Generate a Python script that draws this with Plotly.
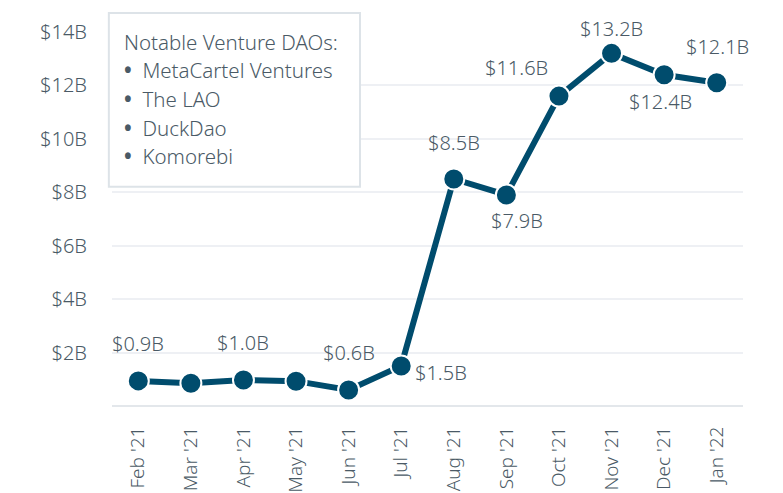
import plotly.graph_objects as go

months = ["Feb '21", "Mar '21", "Apr '21", "May '21", "Jun '21", "Jul '21",
          "Aug '21", "Sep '21", "Oct '21", "Nov '21", "Dec '21", "Jan '22"]
values = [0.94, 0.85, 0.97, 0.93, 0.6, 1.5, 8.5, 7.9, 11.6, 13.2, 12.4, 12.1]
labels = ["$0.9B", "", "$1.0B", "", "$0.6B", "$1.5B",
          "$8.5B", "$7.9B", "$11.6B", "$13.2B", "$12.4B", "$12.1B"]
# label offsets in pixels (x, y)
offsets = [(0, 37), (0, 0), (0, 38), (0, 0), (0, 37), (40, -7),
           (0, 36), (11, -26), (-42, 29), (0, 25), (-4, -27), (1, 36)]
ytick_vals = [2, 4, 6, 8, 10, 12, 14]
ytick_text = ["$2B", "$4B", "$6B", "$8B", "$10B", "$12B", "$14B"]
legend_title = "Notable Venture DAOs:"
legend_items = ["MetaCartel Ventures", "The LAO", "DuckDao", "Komorebi"]

FONT = "Noto Sans"
W = 300
TXT = "#4a5a66"
DARK = "#004c6d"

fig = go.Figure()
fig.add_trace(go.Scatter(
    x=months, y=values, mode="lines+markers",
    line=dict(color=DARK, width=6),
    marker=dict(size=21, color=DARK, line=dict(color="white", width=2)),
    cliponaxis=False, hoverinfo="skip",
))

for m, v, lab, (dx, dy) in zip(months, values, labels, offsets):
    if lab:
        fig.add_annotation(x=m, y=v, text=lab, showarrow=False,
                           xshift=dx, yshift=dy,
                           font=dict(family=FONT, size=20, color=TXT, weight=W))

# legend-like box
fig.add_shape(type="rect", xref="paper", yref="paper",
              x0=-0.005, x1=0.393, y0=0.586, y1=1.051,
              line=dict(color="#dde3e8", width=2), fillcolor="white", layer="above")
lines = [legend_title] + ["<b>•</b>\u00a0\u00a0" + it for it in legend_items]
for i, t in enumerate(lines):
    ypix = 42 + i * 28.5
    fig.add_annotation(xref="paper", yref="paper", x=(122 - 112) / 631,
                       y=1 - (ypix - 32) / 374, xanchor="left", yanchor="middle",
                       text=t, showarrow=False, align="left",
                       font=dict(family=FONT, size=20.5, color=TXT, weight=W))

fig.update_layout(
    width=783, height=493,
    margin=dict(l=112, r=40, t=32, b=87),
    paper_bgcolor="white", plot_bgcolor="white",
    showlegend=False,
    font=dict(family=FONT, size=20, color=TXT, weight=W),
)
fig.update_xaxes(
    type="category", range=[-0.5, 11.5], tickangle=-90, automargin=False,
    showgrid=False, showline=False, zeroline=False,
    ticks="outside", ticklen=12, tickcolor="rgba(0,0,0,0)",
    tickfont=dict(family=FONT, size=19, color=TXT, weight=W),
)
fig.update_yaxes(
    range=[0, 14], tickvals=ytick_vals, ticktext=ytick_text, automargin=False,
    showgrid=True, gridcolor="#eef0f4", gridwidth=2,
    zeroline=True, zerolinecolor="#e3e7eb", zerolinewidth=2,
    ticks="outside", ticklen=20, tickcolor="rgba(0,0,0,0)",
    tickfont=dict(family=FONT, size=20, color=TXT, weight=W),
)

fig.write_html("out.html", config={"displayModeBar": False},
               post_script="document.body.style.margin='0';")
